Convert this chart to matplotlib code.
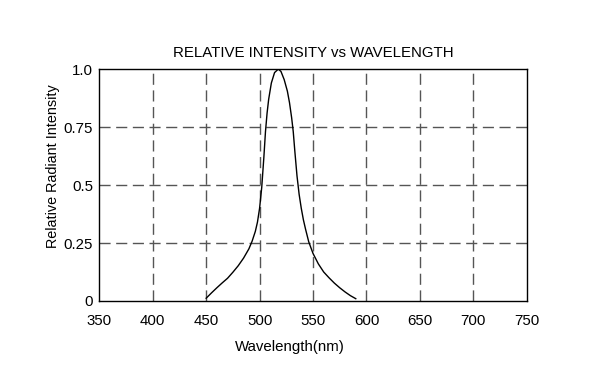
import matplotlib.pyplot as plt

plt.rcParams['font.family'] = ['Liberation Sans', 'DejaVu Sans']

wavelength = [450, 455, 460, 465, 470, 475, 480, 485, 490, 493, 496, 498,
              500, 502, 504, 505.5, 507, 508.5, 511, 514, 517.5,
              520, 523, 526, 528, 530, 531.5, 533, 535, 537, 539, 541,
              543, 546, 550, 555, 560, 565, 570, 575, 580, 585, 590]
intensity = [0.012, 0.035, 0.057, 0.078, 0.098, 0.124, 0.152, 0.185, 0.225, 0.258, 0.30, 0.34,
             0.40, 0.49, 0.62, 0.73, 0.81, 0.87, 0.94, 0.985, 1.0,
             0.99, 0.955, 0.905, 0.855, 0.79, 0.73, 0.645, 0.54, 0.46, 0.40, 0.35,
             0.31, 0.255, 0.205, 0.16, 0.125, 0.10, 0.077, 0.057, 0.039, 0.023, 0.01]

xticks = [350, 400, 450, 500, 550, 600, 650, 700, 750]
yticks = [0, 0.25, 0.5, 0.75, 1.0]
ylabels = ['0', '0.25', '0.5', '0.75', '1.0']

fig = plt.figure(figsize=(6.03, 3.71), dpi=100)
ax = fig.add_axes([0.1647, 0.1887, 0.7088, 0.625])

ax.plot(wavelength, intensity, color='black', lw=1.0)

# dashed grid, only inside the frame
for x in xticks[1:-1]:
    ax.axvline(x, color='#555555', lw=1.0, ls=(0, (8, 4)), zorder=0)
for y in yticks[1:-1]:
    ax.axhline(y, color='#555555', lw=1.0, ls=(0, (8, 4)), zorder=0)

ax.set_xlim(350, 750)
ax.set_ylim(0, 1.0)
ax.set_xticks(xticks)
ax.set_yticks(yticks)
ax.set_yticklabels(ylabels)
ax.tick_params(length=0, labelsize=10.8)
ax.tick_params(axis='x', pad=9.5)
ax.tick_params(axis='y', pad=4.5)
for s in ax.spines.values():
    s.set_linewidth(1.0)

ax.set_title('RELATIVE INTENSITY vs WAVELENGTH', fontsize=10.8, pad=9)
ax.set_xlabel('Wavelength(nm)', fontsize=10.8, va='center')
ax.xaxis.set_label_coords(0.447, -0.198)
ax.set_ylabel('Relative Radiant Intensity', fontsize=10.4, va='center')
ax.yaxis.set_label_coords(-0.1076, 0.582)

fig.savefig('out.png', dpi=100)
